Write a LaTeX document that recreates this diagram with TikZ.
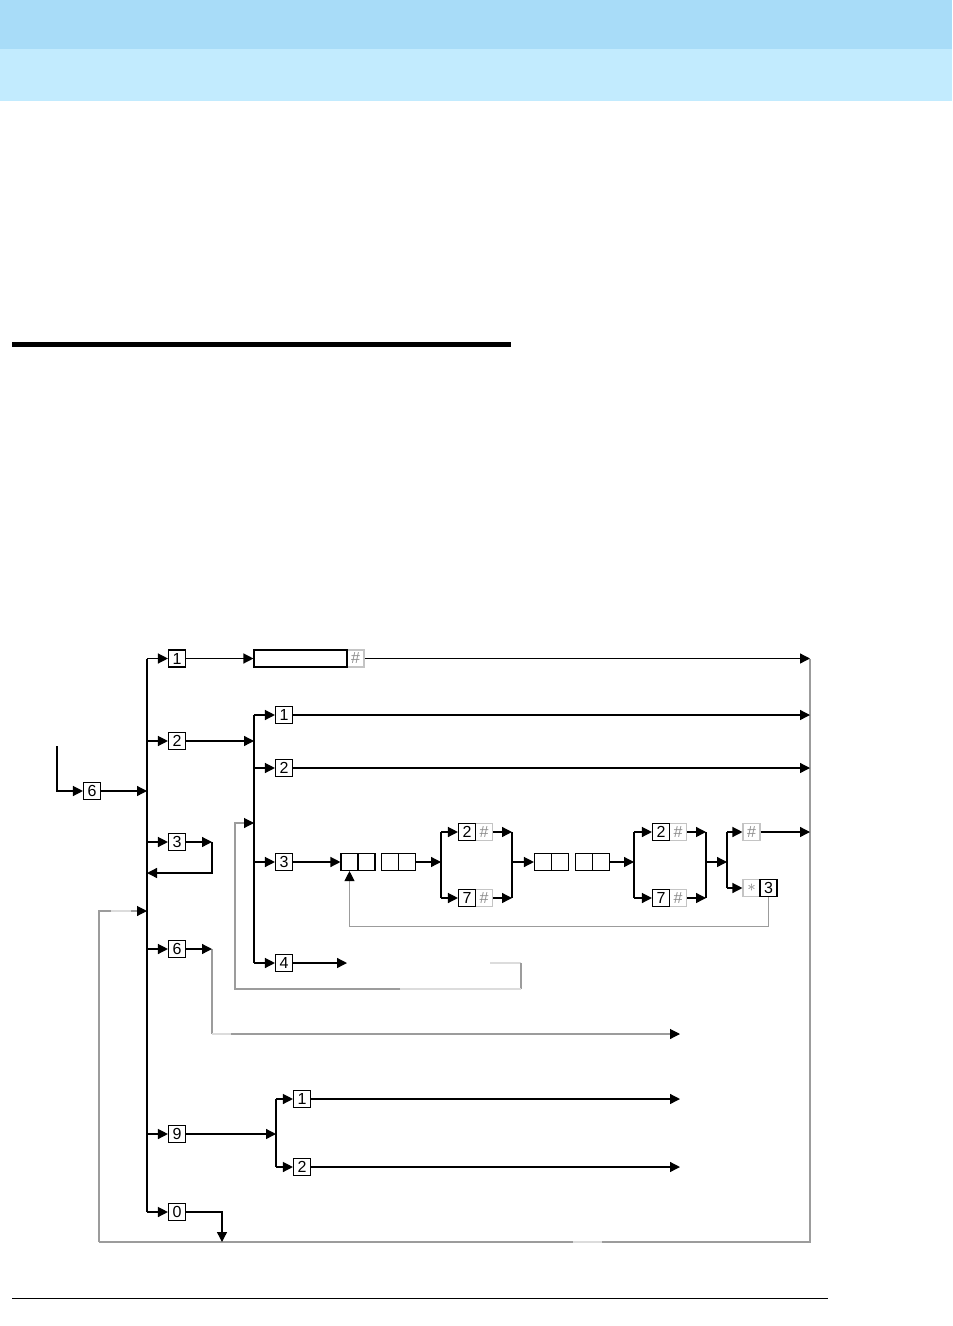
\documentclass[tikz,border=0pt]{standalone}
\usepackage{fontspec}
\setmainfont{Liberation Sans}
\usetikzlibrary{arrows.meta}
\definecolor{hdrA}{HTML}{A8DCF8}
\definecolor{hdrB}{HTML}{C2EBFE}
\definecolor{gline}{HTML}{9C9C9C}
\definecolor{glight}{HTML}{DCDCDC}
\definecolor{gbox}{HTML}{C4C4C4}
\definecolor{gtext}{HTML}{8C8C8C}
\begin{document}
\begin{tikzpicture}[x=0.5pt,y=-0.5pt,line width=0.65pt,
  >={Triangle[length=5pt,width=5pt,color=black,fill=black]},
  key/.style={draw=black,line width=0.55pt,minimum width=8.5pt,minimum height=8.5pt,inner sep=0pt,font=\fontsize{8}{8}\selectfont},
  gkey/.style={key,draw=gbox,text=gtext},
  gwire/.style={draw=gline,line width=0.55pt},
  lwire/.style={draw=glight,line width=0.55pt}]
\useasboundingbox (0,0) rectangle (952,1326);
% header bands and rules
\fill[hdrA] (0,0) rectangle (952,49);
\fill[hdrB] (0,49) rectangle (952,101);
\fill[black] (12,342) rectangle (511,347);
\draw[line width=0.6pt] (12,1298.5) -- (828,1298.5);

% named junction points
\coordinate (b1t) at (147,658.5);
\coordinate (b1b) at (147,1212);
\coordinate (r1) at (810,658.5);
\coordinate (gBR) at (810,1242);
\coordinate (gBL) at (99,1242);
\coordinate (gL) at (99,911);
\coordinate (gLa) at (111,911);
\coordinate (gLb) at (131,911);
\coordinate (gBa) at (573,1242);
\coordinate (gBb) at (602,1242);

% big gray return loop
\draw[gwire] (gBL) -- (gBa);
\draw[lwire] (gBa) -- (gBb);
\draw[gwire] (gBb) -- (gBR) -- (r1);
\draw[gwire] (gBL) -- (gL) -- (gLa);
\draw[lwire] (gLa) -- (gLb);
\draw[gwire,->] (gLb) -- (gLb -| b1t);

% entry
\node[key] (k6) at (92,791) {6};
\coordinate (e0) at (57,746);
\draw[->] (e0) |- (k6);
\draw (b1t) -- (b1b);
\draw[->] (k6) -- (k6 -| b1t);

% first-level keys
\node[key] (m1) at (177,658.5) {1};
\node[key] (m2) at (177,741) {2};
\node[key] (m3) at (177,842) {3};
\node[key] (m6) at (177,949) {6};
\node[key] (m9) at (177,1134) {9};
\node[key] (m0) at (177,1212) {0};
\foreach \n in {m1,m2,m3,m6,m9,m0} \draw[->] (\n.west -| b1t) -- (\n.west);

% row 1
\node[gkey] (H1) at (355.5,658.5) {\#};
\node[key,minimum width=46.5pt] (W) at (300.5,658.5) {};
\draw[->] (m1) -- (W);
\draw[->] (H1) -- (r1);

% row 2 and second bus
\coordinate (b2t) at (254,715);
\coordinate (b2b) at (254,963);
\draw (b2t) -- (b2b);
\draw[->] (m2) -- (m2 -| b2t);
\node[key] (n1) at (284,715) {1};
\node[key] (n2) at (284,768) {2};
\node[key] (n3) at (284,862) {3};
\node[key] (n4) at (284,963) {4};
\foreach \n in {n1,n2,n3,n4} \draw[->] (\n.west -| b2t) -- (\n.west);
\draw[->] (n1) -- (n1 -| r1);
\draw[->] (n2) -- (n2 -| r1);
\coordinate (t4) at (347,963);
\draw[->] (n4) -- (t4);

% gray loop back to second bus
\coordinate (g2a) at (490,963);
\coordinate (g2b) at (521,963);
\coordinate (g2c) at (521,989);
\coordinate (g2m) at (400,989);
\coordinate (g2d) at (235,989);
\coordinate (g2e) at (235,823);
\draw[lwire] (g2a) -- (g2b);
\draw[gwire] (g2b) -- (g2c);
\draw[lwire] (g2c) -- (g2m);
\draw[gwire,->] (g2m) -- (g2d) -- (g2e) -- (g2e -| b2t);

% row 3 chain
\node[key] (D1a) at (349.5,862) {};
\node[key] (D1b) at (366.5,862) {};
\node[key] (D2a) at (390,862) {};
\node[key] (D2b) at (407,862) {};
\draw[->] (n3) -- (D1a);
\coordinate (b3t) at (441,832);
\coordinate (b3b) at (441,898);
\draw (b3t) -- (b3b);
\draw[->] (D2b) -- (D2b -| b3t);
\node[gkey] (H2) at (484,832) {\#};
\node[key] (P2) at (467,832) {2};
\node[gkey] (H7) at (484,898) {\#};
\node[key] (P7) at (467,898) {7};
\draw[->] (P2.west -| b3t) -- (P2);
\draw[->] (P7.west -| b3t) -- (P7);
\coordinate (b4t) at (512,832);
\coordinate (b4b) at (512,898);
\draw (b4t) -- (b4b);
\draw[->] (H2) -- (H2 -| b4t);
\draw[->] (H7) -- (H7 -| b4t);
\node[key] (D3a) at (543,862) {};
\node[key] (D3b) at (560,862) {};
\node[key] (D4a) at (584,862) {};
\node[key] (D4b) at (601,862) {};
\draw[->] (D3a.west -| b4t) -- (D3a);
\coordinate (b5t) at (634,832);
\coordinate (b5b) at (634,898);
\draw (b5t) -- (b5b);
\draw[->] (D4b) -- (D4b -| b5t);
\node[gkey] (QH2) at (678,832) {\#};
\node[key] (Q2) at (661,832) {2};
\node[gkey] (QH7) at (678,898) {\#};
\node[key] (Q7) at (661,898) {7};
\draw[->] (Q2.west -| b5t) -- (Q2);
\draw[->] (Q7.west -| b5t) -- (Q7);
\coordinate (b6t) at (706,832);
\coordinate (b6b) at (706,898);
\coordinate (b6m) at (706,862);
\draw (b6t) -- (b6b);
\draw[->] (QH2) -- (QH2 -| b6t);
\draw[->] (QH7) -- (QH7 -| b6t);
\coordinate (b7t) at (727,832);
\coordinate (b7b) at (727,888);
\draw (b7t) -- (b7b);
\draw[->] (b6m) -- (b6m -| b7t);
\node[gkey] (RH) at (751.5,832) {\#};
\node[gkey] (Rs) at (751.5,888) {$\ast$};
\node[key] (R3) at (768.5,888) {3};
\draw[->] (RH.west -| b7t) -- (RH);
\draw[->] (Rs.west -| b7t) -- (Rs);
\draw[->] (RH) -- (RH -| r1);
\draw[gwire,->] (R3.south) -- ++(0,29.5) -| (D1a.south);

% key 3 loop
\coordinate (c3) at (212,842);
\coordinate (c3b) at (212,873);
\draw[->] (m3) -- (c3);
\draw[->] (c3) -- (c3b) -- (c3b -| b1t);

% key 6 branch
\coordinate (c6) at (212,949);
\coordinate (c6b) at (212,1034);
\coordinate (c6m) at (231,1034);
\coordinate (t6) at (680,1034);
\draw[gwire] (c6) -- (c6b);
\draw[lwire] (c6b) -- (c6m);
\draw[gwire,->] (c6m) -- (t6);
\draw[->] (m6) -- (c6);

% key 9 branch
\coordinate (b8t) at (276,1099);
\coordinate (b8b) at (276,1167);
\draw (b8t) -- (b8b);
\draw[->] (m9) -- (m9 -| b8t);
\node[key] (o1) at (302,1099) {1};
\node[key] (o2) at (302,1167) {2};
\draw[->] (o1.west -| b8t) -- (o1);
\draw[->] (o2.west -| b8t) -- (o2);
\draw[->] (o1) -- (o1 -| t6);
\draw[->] (o2) -- (o2 -| t6);

% key 0
\coordinate (c0) at (222,1212);
\coordinate (c0b) at (222,1242);
\draw[->] (m0) -- (c0) -- (c0b);
\end{tikzpicture}
\end{document}
